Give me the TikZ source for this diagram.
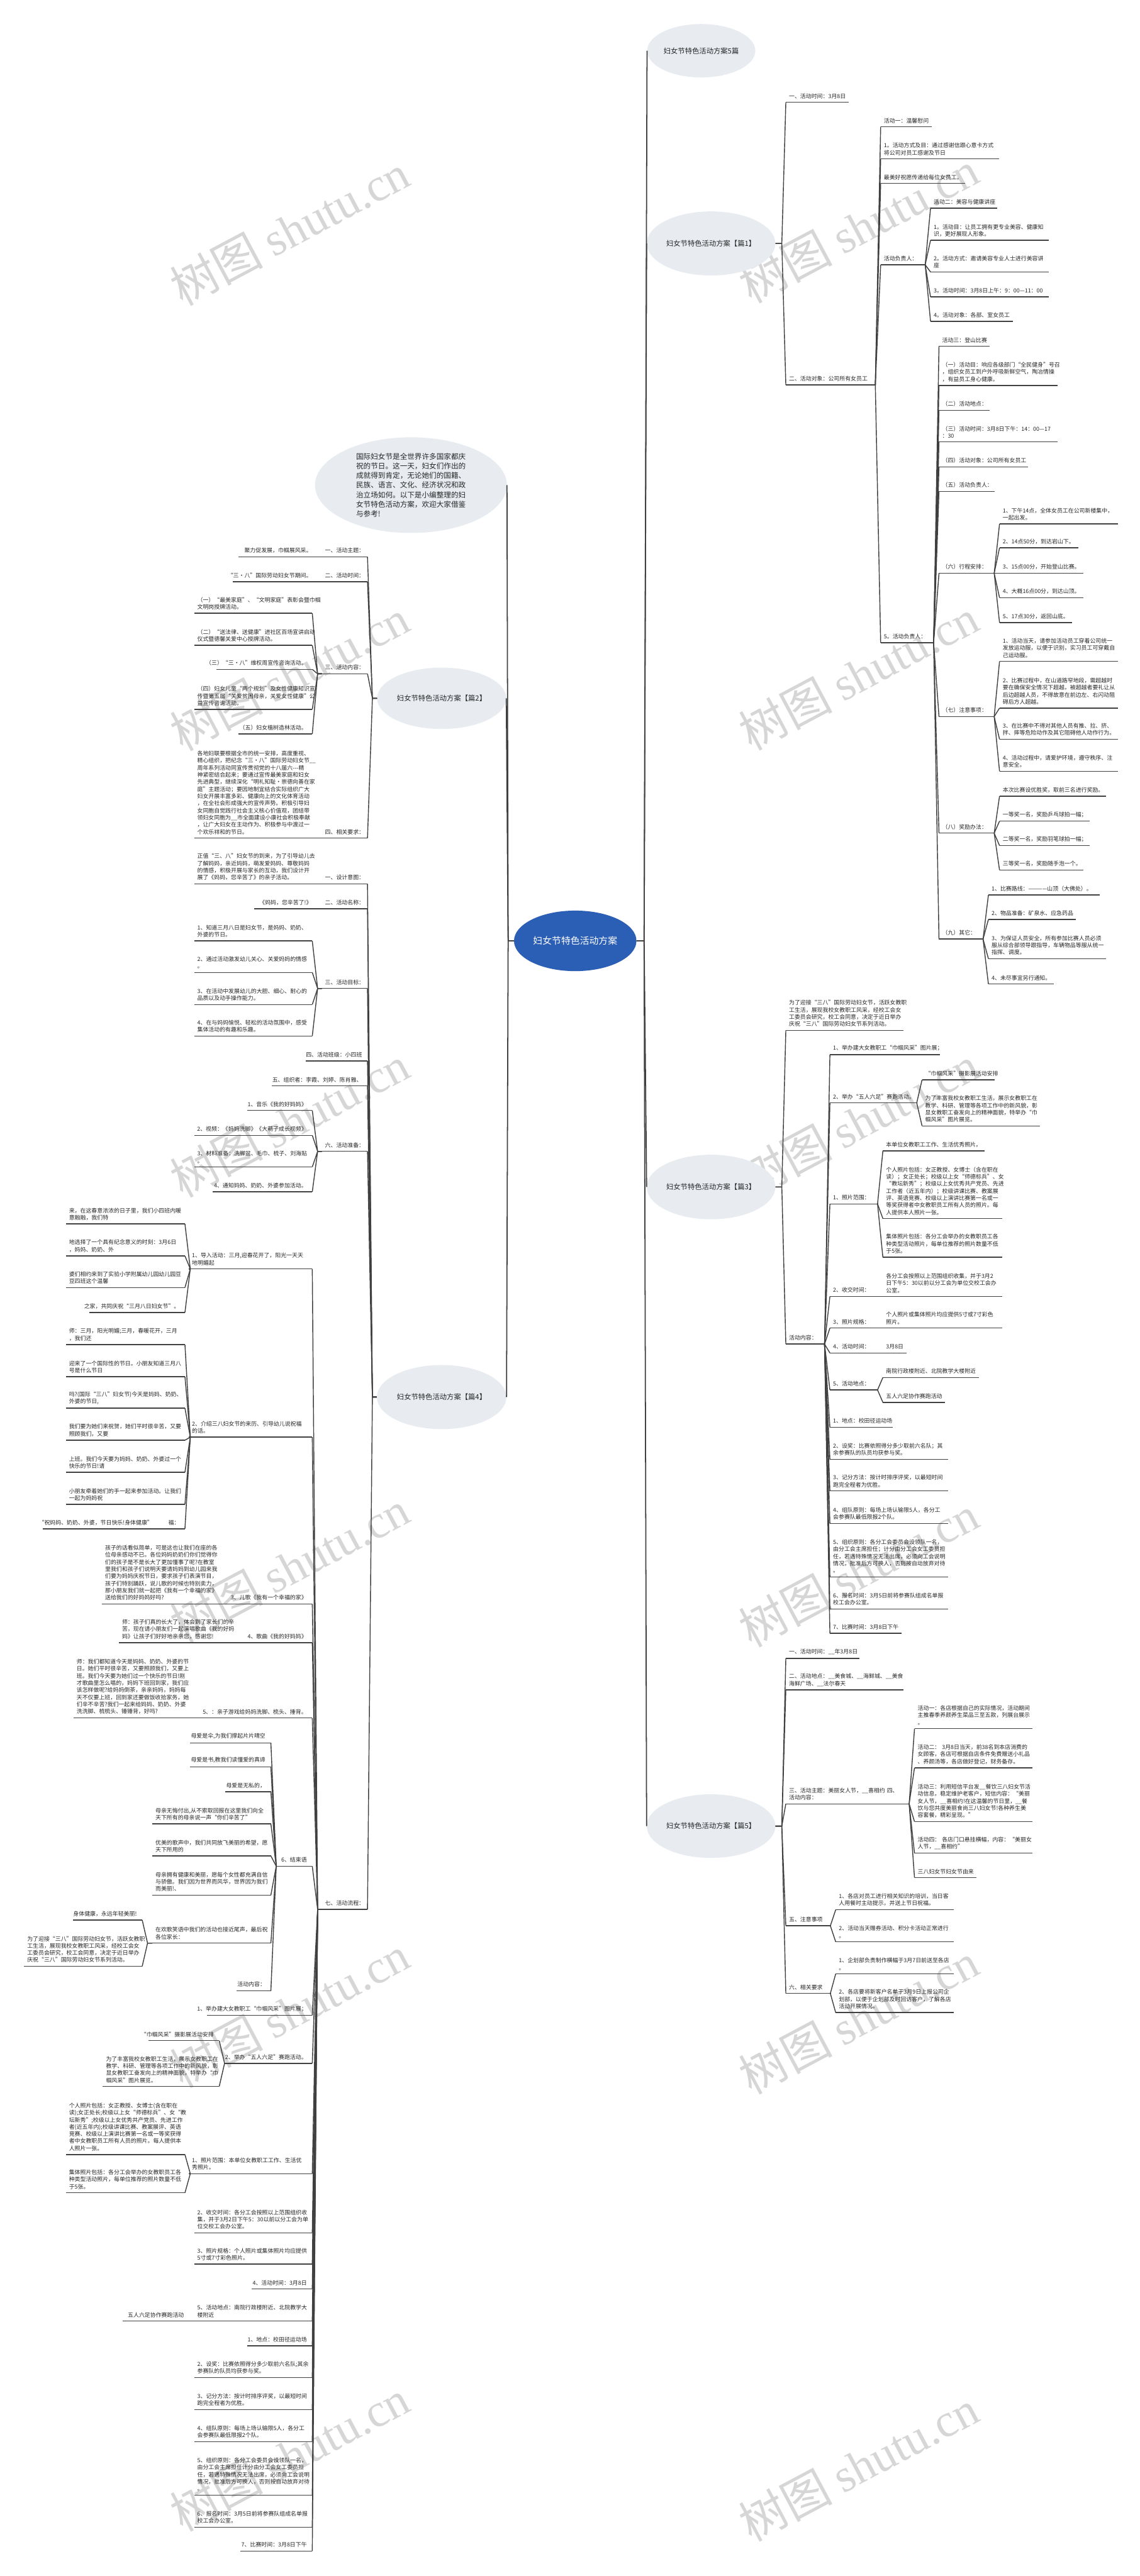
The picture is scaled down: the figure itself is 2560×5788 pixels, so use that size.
\documentclass[tikz,border=0pt]{standalone}
\usepackage{fontspec}
\setmainfont{Noto Sans CJK SC}
\newfontfamily\wmfont{Liberation Serif}
\usetikzlibrary{shapes.geometric,calc}
\definecolor{linec}{RGB}{64,64,64}
\definecolor{bub}{RGB}{232,236,241}
\definecolor{ctr}{RGB}{43,94,181}
\definecolor{wmc}{RGB}{214,214,214}
\tikzset{
 leaf/.style={anchor=south west, inner xsep=7pt, inner ysep=8pt, align=left, text=black!85, font=\fontsize{12.6}{16}\selectfont},
 uline/.style={draw=linec, line width=2pt},
 conn/.style={draw=linec, line width=2pt, line join=round},
 spine/.style={draw=linec, line width=2.5pt, line join=round},
 bubble/.style={ellipse, fill=bub, inner sep=0pt, text=black!85, font=\fontsize{16}{20}\selectfont},
 wmark/.style={rotate=28, text=wmc, inner sep=0pt, font=\fontsize{105}{105}\selectfont},
}
\newcommand\nd[5]{%
 \pgfmathsetlengthmacro\tw{#3-#2-14}%
 \node[leaf, text width=\tw] (#1) at (#2,#4) {#5};
 \draw[uline] (#1.south west) -- (#1.south east);}
\newcommand\ndl[5]{%
 \pgfmathsetlengthmacro\tw{#3-#2-14}%
 \node[leaf, text width=\tw] (#1) at (#2,#4) {\hbox to\linewidth{\hss #5\hskip5pt}};
 \draw[uline] (#1.south west) -- (#1.south east);}
\newcommand\cR[2]{\draw[conn] (#1.south east) -- ($(#2.south west |- #1.south east)+(-12,0)$) -- (#2.south west);}
\newcommand\cL[2]{\draw[conn] (#1.south west) -- ($(#2.south east |- #1.south west)+(12,0)$) -- (#2.south east);}
\newcommand\eR[2]{\draw[conn] (#1.east) -- ($(#2.south west |- #1.east)+(-9,0)$) -- (#2.south west);}
\newcommand\eL[2]{\draw[conn] (#1.west) -- ($(#2.south east |- #1.west)+(11,0)$) -- (#2.south east);}
\begin{document}
\begin{tikzpicture}[x=1pt,y=-1pt]
\useasboundingbox (0,0) rectangle (2560,5788);
\fill[white] (0,0) rectangle (2560,5788);
% watermarks
\foreach \wx/\wy [count=\i] in {650/516,650/1517,650/2520,650/3520,650/4520,650/5517,1928/510,1928/1515,1928/2520,1928/3530,1928/4535,1928/5540}
  \node[wmark] (wm\i) at (\wx,\wy) {树图 {\wmfont shutu.cn}};

% main nodes
\node[ellipse, fill=ctr, text=white, inner sep=0pt, minimum width=275pt, minimum height=136pt, font=\fontsize{21}{25}\selectfont] (C) at (1292,2114) {妇女节特色活动方案};
\node[bubble, minimum width=243pt, minimum height=120pt] (T5) at (1575,114) {妇女节特色活动方案5篇};
\node[bubble, minimum width=289pt, minimum height=144pt] (P1) at (1597,547) {妇女节特色活动方案【篇1】};
\node[bubble, minimum width=289pt, minimum height=145pt] (P3) at (1597,2667) {妇女节特色活动方案【篇3】};
\node[bubble, minimum width=289pt, minimum height=143pt] (P5) at (1597,4103) {妇女节特色活动方案【篇5】};
\node[bubble, minimum width=431pt, minimum height=215pt, align=left, font=\fontsize{16.4}{21.5}\selectfont] (IN) at (923,1090) {国际妇女节是全世界许多国家都庆\\祝的节日。这一天，妇女们作出的\\成就得到肯定，无论她们的国籍、\\民族、语言、文化、经济状况和政\\治立场如何。以下是小编整理的妇\\女节特色活动方案，欢迎大家借鉴\\与参考!};
\node[bubble, minimum width=290pt, minimum height=138pt] (P2) at (992,1569) {妇女节特色活动方案【篇2】};
\node[bubble, minimum width=291pt, minimum height=144pt] (P4) at (992,3139) {妇女节特色活动方案【篇4】};

\foreach \c in {T5,P1,P3,P5} \draw[spine] (C.east) -- ($(C.east)+(17,0)$) -- (\c.west);
\foreach \c in {IN,P2,P4} \draw[spine] (C.west) -- ($(C.west)+(-13,0)$) -- (\c.east);

% ---------- 篇1 ----------
\nd{a1}{1765}{1906}{230}{一、活动时间：3月8日}
\nd{a2}{1765}{1965}{865}{二、活动对象：公司所有女员工}
\nd{b1}{1978}{2092}{285}{活动一：温馨慰问}
\nd{b2}{1978}{2243}{357}{1。活动方式及目：通过感谢信跟心意卡方式\\将公司对员工感谢及节日}
\nd{b3}{1978}{2167}{412}{最美好祝愿传递给每位女员工。}
\nd{b4}{1978}{2067}{595}{活动负责人：}
\nd{b5}{1978}{2095}{1444}{5。活动负责人：}
\nd{c1}{2090}{2240}{468}{活动二：美容与健康讲座}
\nd{c2}{2090}{2355}{540}{1。活动目：让员工拥有更专业美容、健康知\\识，更好展现人形象。}
\nd{c3}{2090}{2355}{611}{2。活动方式：邀请美容专业人士进行美容讲\\座}
\nd{c4}{2090}{2355}{667}{3。活动时间：3月8日上午：9：00—11：00}
\nd{c5}{2090}{2274}{722}{4。活动对象：各部、室女员工}
\nd{d1}{2109}{2223}{778}{活动三：登山比赛}
\nd{d2}{2109}{2375}{866}{（一）活动目：响应各级部门“全民健身”号召\\，组织女员工到户外呼吸新鲜空气，陶冶情操\\，有益员工身心健康。}
\nd{d3}{2109}{2223}{922}{（二）活动地点：}
\nd{d4}{2109}{2375}{993}{（三）活动时间：3月8日下午：14：00—17\\：30}
\nd{d5}{2109}{2309}{1049}{（四）活动对象：公司所有女员工}
\nd{d6}{2109}{2234}{1104}{（五）活动负责人：}
\nd{d7}{2109}{2232}{1288}{（六）行程安排：}
\nd{d8}{2109}{2232}{1610}{（七）注意事项：}
\nd{d9}{2109}{2232}{1872}{（八）奖励办法：}
\nd{d10}{2109}{2207}{2110}{（九）其它：}
\nd{e1}{2245}{2510}{1177}{1、下午14点，全体女员工在公司新楼集中，\\一起出发。}
\nd{e2}{2245}{2421}{1231}{2、14点50分，到达岩山下。}
\nd{e3}{2245}{2433}{1288}{3、15点00分，开始登山比赛。}
\nd{e4}{2245}{2433}{1343}{4、大概16点00分，到达山顶。}
\nd{e5}{2245}{2408}{1399}{5、17点30分，返回山底。}
\nd{f1}{2245}{2510}{1486}{1、活动当天，请参加活动员工穿着公司统一\\发放运动服，以便于识别，实习员工可穿戴自\\己运动服。}
\nd{f2}{2245}{2510}{1591}{2、比赛过程中，在山道路窄地段，需超越时\\要在确保安全情况下超越，被超越者要礼让从\\后边超越人员，不得故意在前边左、右闪动阻\\碍后方人超越。}
\nd{f3}{2245}{2510}{1661}{3、在比赛中不得对其他人员有推、拉、挤、\\拌、摔等危险动作及其它阻碍他人动作行为。}
\nd{f4}{2245}{2510}{1733}{4、活动过程中，请爱护环境，遵守秩序、注\\意安全。}
\nd{g1}{2245}{2484}{1789}{本次比赛设优胜奖，取前三名进行奖励。}
\nd{g2}{2245}{2447}{1845}{一等奖一名，奖励乒乓球拍一幅；}
\nd{g3}{2245}{2447}{1900}{二等奖一名，奖励羽笔球拍一幅；}
\nd{g4}{2245}{2433}{1955}{三等奖一名，奖励随手泡一个。}
\nd{h1}{2220}{2470}{2011}{1、比赛路线：————山顶（大佛处）。}
\nd{h2}{2220}{2416}{2066}{2、物品准备：矿泉水、应急药品}
\nd{h3}{2220}{2484}{2154}{3、为保证人员安全，所有参加比赛人员必须\\服从综合部领导跟指导，车辆物品等服从统一\\指挥、调度。}
\nd{h4}{2220}{2367}{2211}{4、未尽事宜另行通知。}
\foreach \c in {a1,a2} {\eR{P1}{\c}}
\foreach \c in {b1,b2,b3,b4,b5} {\cR{a2}{\c}}
\foreach \c in {c1,c2,c3,c4,c5} {\cR{b4}{\c}}
\foreach \c in {d1,d2,d3,d4,d5,d6,d7,d8,d9,d10} {\cR{b5}{\c}}
\foreach \c in {e1,e2,e3,e4,e5} {\cR{d7}{\c}}
\foreach \c in {f1,f2,f3,f4} {\cR{d8}{\c}}
\foreach \c in {g1,g2,g3,g4} {\cR{d9}{\c}}
\foreach \c in {h1,h2,h3,h4} {\cR{d10}{\c}}

% ---------- 篇3 ----------
\nd{i1}{1765}{2029}{2315}{为了迎接“三八”国际劳动妇女节，活跃女教职\\工生活，展现我校女教职工风采，经校工会女\\工委员会研究，校工会同意，决定于近日举办\\庆祝“三八”国际劳动妇女节系列活动。}
\nd{i2}{1765}{1853}{3020}{活动内容：}
\nd{j1}{1864}{2111}{2370}{1、举办建大女教职工“巾帼风采”图片展；}
\nd{j2}{1864}{2060}{2478}{2、举办“五人六足”赛跑活动。}
\nd{k1}{2071}{2233}{2426}{“巾帼风采”摄影展活动安排}
\nd{k2}{2071}{2335}{2530}{为了丰富我校女教职工生活，展示女教职工在\\教学、科研、管理等各项工作中的新风貌，彰\\显女教职工奋发向上的精神面貌，特举办“巾\\帼风采”图片展览。}
\nd{j3}{1864}{1972}{2705}{1、照片范围：}
\nd{l1}{1983}{2211}{2586}{本单位女教职工工作、生活优秀照片。}
\nd{l2}{1983}{2250}{2738}{个人照片包括：女正教授、女博士（含在职在\\读）；女正处长；校级以上女“师德标兵”、女\\“教坛新秀”；校级以上女优秀共产党员、先进\\工作者（近五年内）；校级讲课比赛、教案展\\评、英语竞赛、校级以上演讲比赛第一名或一\\等奖获得者中女教职员工所有人员的照片。每\\人提供本人照片一张。}
\nd{l3}{1983}{2250}{2825}{集体照片包括：各分工会举办的女教职员工各\\种类型活动照片，每单位推荐的照片数量不低\\于5张。}
\nd{j4}{1864}{1972}{2913}{2、收交时间：}
\nd{l4}{1983}{2250}{2913}{各分工会按照以上范围组织收集，并于3月2\\日下午5：30以前以分工会为单位交校工会办\\公室。}
\nd{j5}{1864}{1972}{2984}{3、照片规格：}
\nd{l5}{1983}{2250}{2984}{个人照片或集体照片均应提供5寸或7寸彩色\\照片。}
\nd{j6}{1864}{1972}{3040}{4、活动时间：}
\nd{l6}{1983}{2036}{3040}{3月8日}
\nd{j7}{1864}{1972}{3123}{5、活动地点：}
\nd{l7}{1983}{2199}{3095}{南院行政楼附近、北院教学大楼附近}
\nd{l8}{1983}{2122}{3151}{五人六足协作赛跑活动}
\nd{j8}{1864}{2005}{3207}{1、地点：校田径运动场}
\nd{j9}{1864}{2129}{3279}{2、设奖：比赛依照得分多少取前六名队；其\\余参赛队的队员均获参与奖。}
\nd{j10}{1864}{2129}{3350}{3、记分方法：按计时排序评奖，以最短时间\\跑完全程者为优胜。}
\nd{j11}{1864}{2129}{3423}{4、组队原则：每场上场认输限5人，各分工\\会参赛队最低限报2个队。}
\nd{j12}{1864}{2129}{3543}{5、组织原则：各分工会委员会设领队一名，\\由分工会主席担任；计分由分工会女工委员担\\任，若遇特殊情况无法出席，必须向工会说明\\情况，批准后方可换人，否则按自动放弃对待\\。}
\nd{j13}{1864}{2129}{3615}{6、报名时间：3月5日前将参赛队组成名单报\\校工会办公室。}
\nd{j14}{1864}{2025}{3670}{7、比赛时间：3月8日下午}
\foreach \c in {i1,i2} {\eR{P3}{\c}}
\foreach \c in {j1,j2,j3,j4,j5,j6,j7,j8,j9,j10,j11,j12,j13,j14} {\cR{i2}{\c}}
\foreach \c in {k1,k2} {\cR{j2}{\c}}
\foreach \c in {l1,l2,l3} {\cR{j3}{\c}}
\cR{j4}{l4} \cR{j5}{l5} \cR{j6}{l6}
\foreach \c in {l7,l8} {\cR{j7}{\c}}

% ---------- 篇5 ----------
\nd{m1}{1765}{1930}{3726}{一、活动时间：\_\_年3月8日}
\nd{m2}{1765}{2029}{3797}{二、活动地点：\_\_美食城、\_\_海鲜城、\_\_美食\\海鲜广场、\_\_法尔春天}
\nd{m3}{1765}{2041}{4053}{三、活动主题：美丽女人节，\_\_喜相约~四、\\活动内容：}
\nd{n1}{2054}{2318}{3884}{活动一：各店根据自己的实际情况，活动期间\\主推春季养颜养生菜品三至五款，列展台展示\\。}
\nd{n2}{2054}{2318}{3972}{活动二：~3月8日当天，前38名到本店消费的\\女顾客，各店可根据自店条件免费赠送小礼品\\、养颜汤等，各店做好登记，财务备存。}
\nd{n3}{2054}{2318}{4093}{活动三：利用短信平台发\_\_餐饮三八妇女节活\\动信息，稳定维护老客户，短信内容：“美丽\\女人节，\_\_喜相约!在这温馨的节日里，\_\_餐\\饮与您共度美丽食尚三八妇女节!各种养生美\\容套餐，精彩呈现。”}
\nd{n4}{2054}{2318}{4164}{活动四：~各店门口悬挂横幅，内容：“美丽女\\人节，\_\_喜相约”}
\nd{n5}{2054}{2193}{4219}{三八妇女节妇女节由来}
\nd{m4}{1765}{1866}{4327}{五、注意事项}
\nd{o1}{1877}{2142}{4291}{1、各店对员工进行相关知识的培训，当日客\\人用餐时主动提示，并送上节日祝福。}
\nd{o2}{1877}{2142}{4363}{2、活动当天赠券活动、积分卡活动正常进行\\。}
\nd{m5}{1765}{1866}{4479}{六、相关要求}
\nd{o3}{1877}{2142}{4435}{1、企划部负责制作横幅于3月7日前送至各店\\。}
\nd{o4}{1877}{2142}{4522}{2、各店要将新客户名单于3月9日上报公司企\\划部，以便于企划部及时回访客户，了解各店\\活动开展情况。}
\foreach \c in {m1,m2,m3,m4,m5} {\eR{P5}{\c}}
\foreach \c in {n1,n2,n3,n4,n5} {\cR{m3}{\c}}
\foreach \c in {o1,o2} {\cR{m4}{\c}}
\foreach \c in {o3,o4} {\cR{m5}{\c}}

% ---------- 篇2 ----------
\nd{p1}{723}{825}{1251}{一、活动主题：}
\ndl{q1}{536}{712}{1251}{聚力促发展，巾帼展风采。}
\nd{p2}{723}{825}{1307}{二、活动时间：}
\ndl{q2}{523}{712}{1307}{“三·八”国际劳动妇女节期间。}
\nd{p3}{723}{825}{1514}{三、活动内容：}
\nd{q3}{436}{701}{1378}{（一）“最美家庭”、“文明家庭”表彰会暨巾帼\\文明岗授牌活动。}
\nd{q4}{436}{701}{1450}{（二）“送法律、送健康”进社区百场宣讲启动\\仪式暨德馨关爱中心授牌活动。}
\ndl{q5}{486}{701}{1504}{（三）“三·八”维权周宣传咨询活动。}
\nd{q6}{436}{701}{1594}{（四）妇女儿童“两个规划”及女性健康知识宣\\传暨第五届“关爱贫困母亲，关爱女性健康”公\\益宣传咨询活动。}
\ndl{q7}{536}{701}{1649}{（五）妇女植树造林活动。}
\nd{p4}{723}{825}{1883}{四、相关要求：}
\nd{q8}{436}{712}{1883}{各地妇联要根据全市的统一安排，高度重视、\\精心组织，把纪念“三·八”国际劳动妇女节\_\_\\周年系列活动同宣传贯彻党的十八届六-{}-{}-精\\神紧密结合起来；要通过宣传最美家庭和妇女\\先进典型，继续深化“明礼知耻·崇德向善在家\\庭”主题活动；要因地制宜结合实际组织广大\\妇女开展丰富多彩、健康向上的文化体育活动\\，在全社会形成强大的宣传声势。积极引导妇\\女同胞自觉践行社会主义核心价值观，团结带\\领妇女同胞为\_\_市全面建设小康社会积极奉献\\，让广大妇女在主动作为、积极参与中渡过一\\个欢乐祥和的节日。}
\foreach \c in {p1,p2,p3,p4} {\eL{P2}{\c}}
\cL{p1}{q1} \cL{p2}{q2} \cL{p4}{q8}
\foreach \c in {q3,q4,q5,q6,q7} {\cL{p3}{\c}}

% ---------- 篇4 ----------
\nd{r1}{723}{825}{1986}{一、设计意图：}
\nd{s1}{436}{712}{1986}{正值“三、八”妇女节的到来，为了引导幼儿去\\了解妈妈，亲近妈妈，萌发爱妈妈、尊敬妈妈\\的情感，积极开展与家长的互动，我们设计开\\展了《妈妈，您辛苦了》的亲子活动。}
\nd{r2}{723}{825}{2042}{二、活动名称：}
\ndl{s2}{571}{712}{2042}{《妈妈，您辛苦了!》}
\nd{r3}{723}{825}{2221}{三、活动目标：}
\nd{s3}{436}{701}{2114}{1、知道三月八日是妇女节，是妈妈、奶奶、\\外婆的节日。}
\nd{s4}{436}{701}{2185}{2、通过活动激发幼儿关心、关爱妈妈的情感\\。}
\nd{s5}{436}{701}{2257}{3、在活动中发展幼儿的大胆、细心、耐心的\\品质以及动手操作能力。}
\nd{s6}{436}{701}{2328}{4、在与妈妈愉悦、轻松的活动氛围中，感受\\集体活动的有趣和乐趣。}
\ndl{r4}{687}{825}{2384}{四、活动班级：小四班}
\ndl{r5}{611}{825}{2440}{五、组织者：李霞、刘婷、陈肖雅、}
\nd{r6}{723}{825}{2587}{六、活动准备：}
\ndl{s7}{555}{701}{2495}{1、音乐《我的好妈妈》}
\ndl{s8}{436}{701}{2551}{2、视频：《妈妈洗脚》《大萌子成长视频》}
\nd{s9}{436}{701}{2622}{3、材料准备：洗脚盆、毛巾、梳子、刘海贴\\。}
\ndl{s10}{478}{701}{2678}{4、通知妈妈、奶奶、外婆参加活动。}
\nd{r7}{723}{825}{4290}{七、活动流程：}
\nd{t1}{424}{701}{2851}{1、导入活动：三月,迎春花开了，阳光一天天\\地明媚起}
\nd{u1}{148}{415}{2750}{来，在这春意浓浓的日子里，我们小四班内暖\\意融融，我们特}
\nd{u2}{148}{415}{2822}{地选择了一个具有纪念意义的时刻：3月6日\\，妈妈、奶奶、外}
\nd{u3}{148}{415}{2893}{婆们相约来到了实验小学附属幼儿园幼儿园豆\\豆四班这个温馨}
\ndl{u4}{200}{415}{2949}{之家，共同庆祝“三月八日妇女节”。}
\nd{t2}{424}{701}{3229}{2、介绍三八妇女节的来历、引导幼儿说祝福\\的话。}
\nd{u5}{148}{415}{3021}{师：三月，阳光明媚;三月，春暖花开，三月\\，我们还}
\nd{u6}{148}{415}{3093}{迎来了一个国际性的节日。小朋友知道三月八\\号是什么节日}
\nd{u7}{148}{415}{3164}{吗?(国际“三八”妇女节)今天是妈妈、奶奶、\\外婆的节日,}
\nd{u8}{148}{415}{3236}{我们要为她们来祝贺，她们平时很辛苦，又要\\照顾我们，又要}
\nd{u9}{148}{415}{3308}{上班。我们今天要为妈妈、奶奶、外婆过一个\\快乐的节日!请}
\nd{u10}{148}{415}{3380}{小朋友牵着她们的手一起来参加活动。让我们\\一起为妈妈祝}
\ndl{u11}{366}{415}{3435}{福：}
\ndl{v1}{96}{355}{3435}{“祝妈妈、奶奶、外婆，节日快乐!身体健康”}
\ndl{t3}{523}{701}{3604}{3、儿歌《我有一个幸福的家》}
\nd{u12}{229}{512}{3604}{孩子的话看似简单，可是这也让我们在座的各\\位母亲感动不已。各位妈妈奶奶们你们觉得你\\们的孩子是不是长大了更加懂事了呢?在教室\\里我们和孩子们说明天要请妈妈到幼儿园来我\\们要为妈妈庆祝节日，要求孩子们表演节目，\\孩子们特别踊跃，说儿歌的时候也特别卖力，\\那小朋友我们就一起把《我有一个幸福的家》\\送给我们的好妈妈好吗?}
\ndl{t4}{554}{701}{3691}{4、歌曲《我的好妈妈》}
\nd{u13}{267}{543}{3691}{师：孩子们真的长大了，体会到了家长们的辛\\苦，现在请小朋友们一起演唱歌曲《我的好妈\\妈》让孩子们好好地亲亲您，感谢您!}
\ndl{t5}{454}{701}{3860}{5、：亲子游戏给妈妈洗脚、梳头、捶背。}
\nd{u14}{165}{443}{3860}{师：我们都知道今天是妈妈、奶奶、外婆的节\\日。她们平时很辛苦，又要照顾我们，又要上\\班。我们今天要为她们过一个快乐的节日!刚\\才歌曲里怎么唱的，妈妈下班回到家，我们应\\该怎样做呢?给妈妈倒茶，亲亲妈妈，妈妈每\\天不仅要上班，回到家还要做饭收拾家务，她\\们辛不辛苦?我们一起来给妈妈、奶奶、外婆\\洗洗脚、梳梳头、锤锤背，好吗?}
\ndl{t6}{619}{701}{4193}{6、结束语}
\ndl{w1}{427}{608}{3916}{母爱是伞,为我们撑起片片晴空}
\ndl{w2}{427}{608}{3970}{母爱是书,教我们读懂爱的真谛}
\ndl{w3}{506}{608}{4026}{母爱是无私的，}
\nd{w4}{342}{608}{4098}{母亲无悔付出,从不索取回报在这里我们向全\\天下所有的母亲说一声“你们辛苦了”}
\nd{w5}{342}{608}{4170}{优美的歌声中，我们共同放飞美丽的希望，愿\\天下所用的}
\nd{w6}{342}{608}{4258}{母亲拥有健康和美丽，愿每个女性都充满自信\\与骄傲。我们因为世界而风华，世界因为我们\\而美丽!、}
\nd{w7}{342}{608}{4366}{在欢歌笑语中我们的活动也接近尾声，最后祝\\各位家长：}
\ndl{x1}{164}{319}{4314}{身体健康，永远年轻美丽!}
\nd{x2}{54}{319}{4418}{为了迎接“三八”国际劳动妇女节，活跃女教职\\工生活，展现我校女教职工风采，经校工会女\\工委员会研究，校工会同意，决定于近日举办\\庆祝“三八”国际劳动妇女节系列活动。}
\ndl{w8}{531}{608}{4473}{活动内容：}
\ndl{t7}{465}{701}{4528}{1、举办建大女教职工“巾帼风采”图片展；}
\ndl{t8}{504}{701}{4636}{2、举办“五人六足”赛跑活动。}
\ndl{y1}{333}{492}{4585}{“巾帼风采”摄影展活动安排}
\nd{y2}{231}{492}{4688}{为了丰富我校女教职工生活，展示女教职工在\\教学、科研、管理等各项工作中的新风貌，彰\\显女教职工奋发向上的精神面貌，特举办“巾\\帼风采”图片展览。}
\nd{t9}{424}{701}{4884}{1、照片范围：本单位女教职工工作、生活优\\秀照片。}
\nd{z1}{148}{415}{4841}{个人照片包括：女正教授、女博士(含在职在\\读);女正处长;校级以上女“师德标兵”、女“教\\坛新秀”;校级以上女优秀共产党员、先进工作\\者(近五年内);校级讲课比赛、教案展评、英语\\竞赛、校级以上演讲比赛第一名或一等奖获得\\者中女教职员工所有人员的照片。每人提供本\\人照片一张。}
\nd{z2}{148}{415}{4927}{集体照片包括：各分工会举办的女教职员工各\\种类型活动照片，每单位推荐的照片数量不低\\于5张。}
\nd{t10}{436}{701}{5017}{2、收交时间：各分工会按照以上范围组织收\\集，并于3月2日下午5：30以前以分工会为单\\位交校工会办公室。}
\nd{t11}{436}{701}{5087}{3、照片规格：个人照片或集体照片均应提供\\5寸或7寸彩色照片。}
\ndl{t12}{565}{701}{5143}{4、活动时间：3月8日}
\nd{t13}{436}{701}{5215}{5、活动地点：南院行政楼附近、北院教学大\\楼附近}
\ndl{z3}{275}{425}{5215}{五人六足协作赛跑活动}
\ndl{t14}{555}{701}{5271}{1、地点：校田径运动场}
\nd{t15}{436}{701}{5342}{2、设奖：比赛依照得分多少取前六名队;其余\\参赛队的队员均获参与奖。}
\nd{t16}{436}{701}{5414}{3、记分方法：按计时排序评奖，以最短时间\\跑完全程者为优胜。}
\nd{t17}{436}{701}{5486}{4、组队原则：每场上场认输限5人，各分工\\会参赛队最低限报2个队。}
\nd{t18}{436}{701}{5606}{5、组织原则：各分工会委员会设领队一名，\\由分工会主席担任计分由分工会女工委员担\\任，若遇特殊情况无法出席，必须向工会说明\\情况，批准后方可换人，否则按自动放弃对待\\。}
\nd{t19}{436}{701}{5678}{6、报名时间：3月5日前将参赛队组成名单报\\校工会办公室。}
\ndl{t20}{540}{701}{5732}{7、比赛时间：3月8日下午}
\foreach \c in {r1,r2,r3,r4,r5,r6,r7} {\eL{P4}{\c}}
\cL{r1}{s1} \cL{r2}{s2}
\foreach \c in {s3,s4,s5,s6} {\cL{r3}{\c}}
\foreach \c in {s7,s8,s9,s10} {\cL{r6}{\c}}
\foreach \c in {t1,t2,t3,t4,t5,t6,t7,t8,t9,t10,t11,t12,t13,t14,t15,t16,t17,t18,t19,t20} {\cL{r7}{\c}}
\foreach \c in {u1,u2,u3,u4} {\cL{t1}{\c}}
\foreach \c in {u5,u6,u7,u8,u9,u10,u11} {\cL{t2}{\c}}
\cL{u11}{v1} \cL{t3}{u12} \cL{t4}{u13} \cL{t5}{u14} \cL{t13}{z3}
\foreach \c in {w1,w2,w3,w4,w5,w6,w7,w8} {\cL{t6}{\c}}
\foreach \c in {x1,x2} {\cL{w7}{\c}}
\foreach \c in {y1,y2} {\cL{t8}{\c}}
\foreach \c in {z1,z2} {\cL{t9}{\c}}
\end{tikzpicture}
\end{document}
